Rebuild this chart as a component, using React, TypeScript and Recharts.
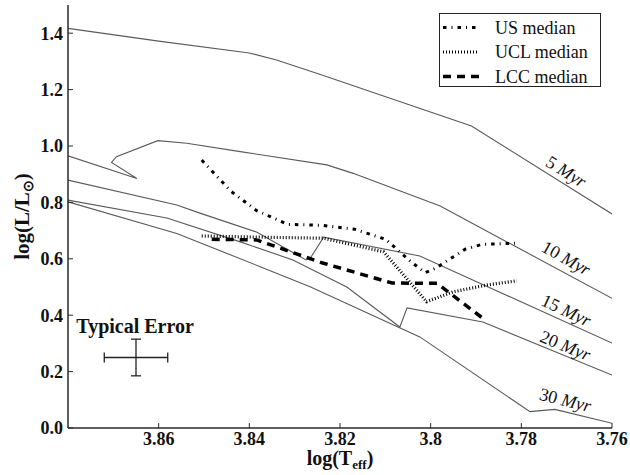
import React from 'react';
import {
  ComposedChart,
  Line,
  XAxis,
  YAxis,
  Scatter,
  ErrorBar,
  ReferenceDot,
  Legend,
} from 'recharts';

const FONT = "'Liberation Serif', 'Times New Roman', serif";

// axis ticks / domains
const X_TICKS = [3.86, 3.84, 3.82, 3.8, 3.78, 3.76];
const Y_TICKS = [0, 0.2, 0.4, 0.6, 0.8, 1.0, 1.2, 1.4];
const X_DOMAIN = [3.76, 3.88];
const Y_DOMAIN = [0, 1.5];

// isochrones [logTeff, logL]
const ISO_5 = [[3.88, 1.417], [3.86, 1.372], [3.84, 1.33], [3.834, 1.305], [3.824, 1.252], [3.791, 1.071], [3.76, 0.759]];
const ISO_10 = [[3.88, 0.965], [3.8648, 0.885], [3.8704, 0.942], [3.8693, 0.962], [3.8602, 1.019], [3.8538, 1.01], [3.842, 0.98], [3.8229, 0.933], [3.8171, 0.903], [3.7979, 0.787], [3.76, 0.46]];
const ISO_15 = [[3.88, 0.879], [3.856, 0.791], [3.8509, 0.762], [3.8384, 0.695], [3.8275, 0.596], [3.8266, 0.601], [3.8236, 0.677], [3.8024, 0.61], [3.76, 0.301]];
const ISO_20 = [[3.88, 0.808], [3.8582, 0.745], [3.842, 0.66], [3.8304, 0.596], [3.8185, 0.5], [3.8068, 0.358], [3.8052, 0.426], [3.7885, 0.376], [3.76, 0.188]];
const ISO_30 = [[3.88, 0.802], [3.856, 0.69], [3.8376, 0.572], [3.8266, 0.501], [3.8024, 0.323], [3.7781, 0.058], [3.7726, 0.066], [3.76, 0.017]];

// medians
const US_MEDIAN = [[3.8505, 0.95], [3.8441, 0.84], [3.8384, 0.771], [3.8315, 0.722], [3.8242, 0.719], [3.8168, 0.705], [3.8099, 0.669], [3.8044, 0.59], [3.8012, 0.551], [3.7987, 0.568], [3.7955, 0.602], [3.7924, 0.634], [3.7887, 0.651], [3.7814, 0.655]];
const UCL_MEDIAN = [[3.8505, 0.681], [3.8421, 0.678], [3.8237, 0.673], [3.8104, 0.625], [3.8009, 0.448], [3.795, 0.483], [3.7876, 0.507], [3.781, 0.522]];
const LCC_MEDIAN = [[3.8483, 0.669], [3.8384, 0.667], [3.8238, 0.585], [3.8085, 0.514], [3.7986, 0.513], [3.788, 0.383]];

// isochrone age labels (position in data coords)
const AGE_TEXT = ['5', '10', '15', '20', '30'];
const AGE_X = [3.7701, 3.7701, 3.7701, 3.7703, 3.7703];
const AGE_Y = [0.909, 0.602, 0.417, 0.292, 0.099];
const AGE_ANGLE = [32, 29, 25, 22, 14];

// typical error
const ERROR_POINT = [{ x: 3.865, y: 0.25, ex: 0.007, ey: 0.065 }];
const ERROR_TEXT = { text: 'Typical Error', x: 3.8652, y: 0.36 };

const LEGEND_NAMES = ['US median', 'UCL median', 'LCC median'];

const toPts = (arr: number[][]) => arr.map(([x, y]) => ({ x, y }));

const ISO_LIST = [ISO_5, ISO_10, ISO_15, ISO_20, ISO_30];

const MEDIAN_STYLES = [
  { width: 3, dash: '3.5 5 1 5' },
  { width: 3.2, dash: '1 2' },
  { width: 3.5, dash: '8 6' },
];
const MEDIANS = [US_MEDIAN, UCL_MEDIAN, LCC_MEDIAN];

const fmtX = (v: number) => String(Number(v.toFixed(2)));
const fmtY = (v: number) => v.toFixed(1);

const FRAME = '#2a2a2a';
const ISO_COLOR = '#5a5a5a';

const tickStyle = { fontFamily: FONT, fontSize: 18, fontWeight: 700, fill: '#111' };

function LegendBox() {
  return (
    <div
      style={{
        width: 162,
        height: 74,
        border: '1px solid #222',
        background: '#fff',
        boxSizing: 'border-box',
      }}
    >
      <svg width={160} height={72}>
        {LEGEND_NAMES.map((n, i) => {
          const cy = 13.5 + i * 24.5;
          return (
            <g key={n}>
              <line
                x1={3}
                x2={39}
                y1={cy}
                y2={cy}
                stroke="#000"
                strokeWidth={MEDIAN_STYLES[i].width}
                strokeDasharray={MEDIAN_STYLES[i].dash}
              />
              <text
                x={55}
                y={cy}
                dominantBaseline="central"
                fontFamily={FONT}
                fontSize={18}
                fill="#111"
              >
                {n}
              </text>
            </g>
          );
        })}
      </svg>
    </div>
  );
}

export default function App() {
  return (
    <div style={{ position: 'absolute', left: 0, top: 0, background: '#fff' }}>
      <ComposedChart
        width={630}
        height={475}
        margin={{ top: 5, right: 18, bottom: 0, left: 0 }}
      >
        <XAxis
          xAxisId="b"
          dataKey="x"
          type="number"
          domain={X_DOMAIN}
          ticks={X_TICKS}
          reversed
          allowDataOverflow
          height={47}
          tickSize={-5}
          tickMargin={9}
          tickFormatter={fmtX}
          tick={tickStyle}
          stroke={FRAME}
          strokeWidth={1.5}
          tickLine={{ stroke: FRAME, strokeWidth: 1 }}
          label={{
            content: (p: any) => {
              const vb = p.viewBox || {};
              return (
                <text
                  x={vb.x + vb.width / 2}
                  y={vb.y + 37}
                  textAnchor="middle"
                  fontFamily={FONT}
                  fontSize={20}
                  fontWeight={700}
                  fill="#111"
                >
                  log(T
                  <tspan dy={4} fontSize={13}>
                    eff
                  </tspan>
                  <tspan dy={-4}>)</tspan>
                </text>
              );
            },
          }}
        />
        <XAxis
          xAxisId="t"
          orientation="top"
          dataKey="x"
          type="number"
          domain={X_DOMAIN}
          ticks={X_TICKS}
          reversed
          allowDataOverflow
          height={0}
          tickSize={-5}
          tickFormatter={() => ''}
          stroke={FRAME}
          strokeWidth={1.5}
          tickLine={{ stroke: FRAME, strokeWidth: 1 }}
        />
        <YAxis
          yAxisId="l"
          type="number"
          domain={Y_DOMAIN}
          ticks={Y_TICKS}
          allowDataOverflow
          width={68}
          tickSize={-5}
          tickMargin={10}
          tickFormatter={fmtY}
          tick={tickStyle}
          stroke={FRAME}
          strokeWidth={1.5}
          tickLine={{ stroke: FRAME, strokeWidth: 1 }}
          label={{
            content: (p: any) => {
              const vb = p.viewBox || {};
              const cx = vb.x + 29;
              const cy = vb.y + vb.height / 2;
              return (
                <text
                  x={cx}
                  y={cy}
                  transform={`rotate(-90 ${cx} ${cy})`}
                  textAnchor="middle"
                  fontFamily={FONT}
                  fontSize={21}
                  fontWeight={700}
                  fill="#111"
                >
                  log(L/L
                  <tspan dy={4} fontSize={14}>
                    ⊙
                  </tspan>
                  <tspan dy={-4}>)</tspan>
                </text>
              );
            },
          }}
        />
        <YAxis
          yAxisId="r"
          orientation="right"
          type="number"
          domain={Y_DOMAIN}
          ticks={Y_TICKS}
          allowDataOverflow
          width={0}
          tickSize={-5}
          tickFormatter={() => ''}
          stroke={FRAME}
          strokeWidth={1.5}
          tickLine={{ stroke: FRAME, strokeWidth: 1 }}
        />

        {ISO_LIST.map((iso, i) => (
          <Line
            key={'iso' + i}
            xAxisId="b"
            yAxisId="l"
            data={toPts(iso)}
            dataKey="y"
            type="linear"
            stroke={ISO_COLOR}
            strokeWidth={1.1}
            dot={false}
            activeDot={false}
            isAnimationActive={false}
            legendType="none"
          />
        ))}

        {MEDIANS.map((m, i) => (
          <Line
            key={'med' + i}
            xAxisId="b"
            yAxisId="l"
            data={toPts(m)}
            dataKey="y"
            name={LEGEND_NAMES[i]}
            type="linear"
            stroke="#000"
            strokeWidth={MEDIAN_STYLES[i].width}
            strokeDasharray={MEDIAN_STYLES[i].dash}
            dot={false}
            activeDot={false}
            isAnimationActive={false}
          />
        ))}

        <Scatter
          xAxisId="b"
          yAxisId="l"
          data={ERROR_POINT}
          dataKey="y"
          isAnimationActive={false}
          shape={() => <g />}
          legendType="none"
        >
          <ErrorBar dataKey="ex" direction="x" width={5} stroke="#222" strokeWidth={1.3} isAnimationActive={false} />
          <ErrorBar dataKey="ey" direction="y" width={5} stroke="#222" strokeWidth={1.3} isAnimationActive={false} />
        </Scatter>

        {AGE_TEXT.map((t, i) => (
          <ReferenceDot
            key={'age' + i}
            xAxisId="b"
            yAxisId="l"
            x={AGE_X[i]}
            y={AGE_Y[i]}
            r={0}
            shape={(p: any) => (
              <text
                x={p.cx}
                y={p.cy}
                transform={`rotate(${AGE_ANGLE[i]} ${p.cx} ${p.cy})`}
                textAnchor="middle"
                dominantBaseline="central"
                fontFamily={FONT}
                fontSize={18}
                fill="#111"
              >
                {t + ' '}
                <tspan fontStyle="italic">Myr</tspan>
              </text>
            )}
          />
        ))}

        <ReferenceDot
          xAxisId="b"
          yAxisId="l"
          x={ERROR_TEXT.x}
          y={ERROR_TEXT.y}
          r={0}
          shape={(p: any) => (
            <text
              x={p.cx}
              y={p.cy}
              textAnchor="middle"
              dominantBaseline="central"
              fontFamily={FONT}
              fontSize={20}
              fontWeight={700}
              fill="#111"
            >
              {ERROR_TEXT.text}
            </text>
          )}
        />

        <Legend
          layout="vertical"
          align="center"
          verticalAlign="middle"
          wrapperStyle={{ position: 'absolute', left: 439, top: 13, width: 162, height: 74 }}
          content={() => <LegendBox />}
        />
      </ComposedChart>
    </div>
  );
}
